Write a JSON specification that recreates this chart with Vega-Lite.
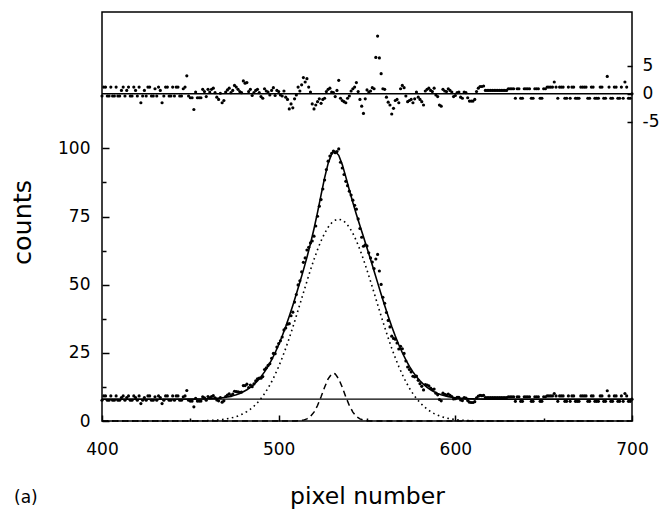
{
  "$schema": "https://vega.github.io/schema/vega-lite/v6.json",
  "width": 530,
  "height": 409,
  "autosize": {"type": "none"},
  "padding": {"left": 102, "top": 12, "right": 31, "bottom": 89},
  "background": "white",
  "config": {
    "view": {"stroke": "black", "strokeWidth": 1.5},
    "font": "DejaVu Sans",
    "axis": {"domain": false, "grid": false, "tickColor": "black", "labelColor": "black", "titleColor": "black", "labelFont": "DejaVu Sans", "titleFont": "DejaVu Sans", "labelFontSize": 17, "titleFontWeight": "normal", "tickWidth": 1.5, "labelFlush": false, "labelOverlap": false}
  },
  "title": {"text": "(a)", "orient": "bottom", "anchor": "start", "frame": "bounds", "offset": -18, "dx": 4, "fontSize": 17, "fontWeight": "normal", "font": "DejaVu Sans", "color": "black"},
  "datasets": {
    "pts": [
      {"x":400,"c":7.6,"r":-0.4},{"x":402,"c":9.2,"r":1.2},{"x":404,"c":7.6,"r":-0.4},{"x":406,"c":7.6,"r":-0.4},{"x":408,"c":9.2,"r":1.2},
      {"x":410,"c":7.6,"r":-0.4},{"x":412,"c":9.2,"r":1.2},{"x":414,"c":8.6,"r":0.6},{"x":416,"c":7.6,"r":-0.4},{"x":418,"c":9.2,"r":1.2},
      {"x":420,"c":7.6,"r":-0.4},{"x":422,"c":6.4,"r":-1.6},{"x":424,"c":8.6,"r":0.6},{"x":426,"c":9.2,"r":1.2},{"x":428,"c":7.6,"r":-0.4},
      {"x":430,"c":8.9,"r":0.9},{"x":432,"c":9.2,"r":1.2},{"x":434,"c":6.4,"r":-1.6},{"x":436,"c":9.2,"r":1.2},{"x":438,"c":7.6,"r":-0.4},
      {"x":440,"c":9.2,"r":1.2},{"x":442,"c":9.2,"r":1.2},{"x":444,"c":7.6,"r":-0.4},{"x":446,"c":8.9,"r":0.9},{"x":448,"c":11.2,"r":3.2},
      {"x":450,"c":7.3,"r":-0.7},{"x":452,"c":5.2,"r":-2.8},{"x":454,"c":7.3,"r":-0.7},{"x":456,"c":7.3,"r":-0.7},{"x":458,"c":8.5,"r":0.4},
      {"x":460,"c":9.0,"r":0.8},{"x":462,"c":9.0,"r":0.8},{"x":464,"c":8.5,"r":0.2},{"x":466,"c":7.4,"r":-1.0},{"x":468,"c":6.9,"r":-1.6},
      {"x":470,"c":9.0,"r":0.3},{"x":472,"c":10.0,"r":1.0},{"x":474,"c":9.9,"r":0.6},{"x":476,"c":10.8,"r":1.2},{"x":478,"c":10.5,"r":0.4},
      {"x":480,"c":13.0,"r":2.3},{"x":482,"c":13.5,"r":2.0},{"x":484,"c":13.2,"r":0.8},{"x":486,"c":13.6,"r":0.2},{"x":488,"c":15.5,"r":0.8},
      {"x":490,"c":15.7,"r":-0.5},{"x":492,"c":18.9,"r":0.9},{"x":494,"c":20.4,"r":0.3},{"x":496,"c":23.0,"r":0.6},{"x":498,"c":24.7,"r":-0.3},
      {"x":500,"c":28.4,"r":0.4},{"x":502,"c":30.8,"r":-0.4},{"x":504,"c":34.1,"r":-0.6},{"x":506,"c":35.7,"r":-2.7},{"x":508,"c":39.9,"r":-2.5},
      {"x":510,"c":46.4,"r":-0.2},{"x":512,"c":51.4,"r":0.5},{"x":514,"c":58.2,"r":2.9},{"x":516,"c":62.7,"r":2.7},{"x":518,"c":65.3,"r":0.3},
      {"x":520,"c":67.8,"r":-2.7},{"x":522,"c":75.1,"r":-1.4},{"x":524,"c":81.2,"r":-1.7},{"x":526,"c":88.4,"r":-0.8},{"x":528,"c":95.3,"r":0.8},
      {"x":530,"c":98.2,"r":0.3},{"x":532,"c":98.4,"r":-0.5},{"x":534,"c":99.8,"r":2.4},{"x":536,"c":92.8,"r":-1.2},{"x":538,"c":87.9,"r":-1.6},
      {"x":540,"c":84.3,"r":-0.4},{"x":542,"c":81.0,"r":0.9},{"x":544,"c":77.7,"r":2.0},{"x":546,"c":70.6,"r":-1.0},{"x":548,"c":64.1,"r":-3.5},
      {"x":550,"c":64.2,"r":0.7},{"x":552,"c":59.8,"r":0.5},{"x":554,"c":55.9,"r":0.9},{"x":555,"c":59.4,"r":6.5},{"x":556,"c":61.1,"r":10.3},
      {"x":557,"c":55.0,"r":6.4},{"x":558,"c":50.1,"r":3.6},{"x":560,"c":43.2,"r":0.8},{"x":562,"c":36.9,"r":-1.5},{"x":564,"c":31.1,"r":-3.6},
      {"x":566,"c":30.0,"r":-1.2},{"x":568,"c":26.4,"r":-1.6},{"x":570,"c":26.5,"r":1.5},{"x":572,"c":22.0,"r":-0.4},{"x":574,"c":18.9,"r":-1.2},
      {"x":576,"c":16.4,"r":-1.6},{"x":578,"c":16.5,"r":0.3},{"x":580,"c":13.7,"r":-1.0},{"x":582,"c":11.4,"r":-2.0},{"x":584,"c":13.2,"r":0.8},
      {"x":586,"c":12.1,"r":0.6},{"x":588,"c":11.7,"r":1.0},{"x":590,"c":9.6,"r":-0.5},{"x":592,"c":7.4,"r":-2.2},{"x":594,"c":9.8,"r":0.5},
      {"x":596,"c":9.9,"r":0.9},{"x":598,"c":9.0,"r":0.3},{"x":600,"c":8.2,"r":-0.3},{"x":602,"c":8.7,"r":0.3},{"x":604,"c":7.5,"r":-0.8},
      {"x":606,"c":8.4,"r":0.2},{"x":608,"c":6.9,"r":-1.3},{"x":610,"c":6.8,"r":-1.3},{"x":612,"c":8.5,"r":0.4},{"x":614,"c":9.4,"r":1.3},
      {"x":616,"c":9.4,"r":1.4},{"x":618,"c":8.6,"r":0.6},{"x":620,"c":8.6,"r":0.6},{"x":622,"c":8.6,"r":0.6},{"x":624,"c":8.6,"r":0.6},
      {"x":626,"c":8.6,"r":0.6},{"x":628,"c":8.6,"r":0.6},{"x":630,"c":8.9,"r":0.9},{"x":632,"c":8.9,"r":0.9},{"x":634,"c":7.2,"r":-0.8},
      {"x":636,"c":8.9,"r":0.9},{"x":638,"c":7.2,"r":-0.8},{"x":640,"c":8.9,"r":0.9},{"x":642,"c":8.9,"r":0.9},{"x":644,"c":7.2,"r":-0.8},
      {"x":646,"c":8.9,"r":0.9},{"x":648,"c":7.2,"r":-0.8},{"x":650,"c":8.9,"r":0.9},{"x":652,"c":9.2,"r":1.2},{"x":654,"c":9.2,"r":1.2},
      {"x":656,"c":10.1,"r":2.1},{"x":658,"c":7.2,"r":-0.8},{"x":660,"c":9.2,"r":1.2},{"x":662,"c":7.2,"r":-0.8},{"x":664,"c":9.2,"r":1.2},
      {"x":666,"c":9.2,"r":1.2},{"x":668,"c":7.2,"r":-0.8},{"x":670,"c":7.2,"r":-0.8},{"x":672,"c":9.2,"r":1.2},{"x":674,"c":9.2,"r":1.2},
      {"x":676,"c":7.2,"r":-0.8},{"x":678,"c":9.2,"r":1.2},{"x":680,"c":7.2,"r":-0.8},{"x":682,"c":9.2,"r":1.2},{"x":684,"c":7.2,"r":-0.8},
      {"x":686,"c":11.1,"r":3.1},{"x":688,"c":7.2,"r":-0.8},{"x":690,"c":9.2,"r":1.2},{"x":692,"c":7.2,"r":-0.8},{"x":694,"c":9.2,"r":1.2},
      {"x":696,"c":10.1,"r":2.1},{"x":698,"c":7.2,"r":-0.8},{"x":700,"c":8.0,"r":0.0},
      {"x":401,"c":9.2,"r":1.2},{"x":403,"c":7.6,"r":-0.4},{"x":405,"c":9.2,"r":1.2},{"x":407,"c":7.6,"r":-0.4},{"x":409,"c":7.6,"r":-0.4},
      {"x":411,"c":8.6,"r":0.6},{"x":413,"c":7.6,"r":-0.4},{"x":415,"c":9.2,"r":1.2},{"x":417,"c":7.6,"r":-0.4},{"x":419,"c":8.6,"r":0.6},
      {"x":421,"c":9.2,"r":1.2},{"x":423,"c":7.6,"r":-0.4},{"x":425,"c":7.6,"r":-0.4},{"x":427,"c":9.2,"r":1.2},{"x":429,"c":7.6,"r":-0.4},
      {"x":431,"c":7.6,"r":-0.4},{"x":433,"c":8.6,"r":0.6},{"x":435,"c":7.6,"r":-0.4},{"x":437,"c":9.2,"r":1.2},{"x":439,"c":7.6,"r":-0.4},
      {"x":441,"c":7.6,"r":-0.4},{"x":443,"c":9.2,"r":1.2},{"x":445,"c":7.6,"r":-0.4},{"x":447,"c":9.2,"r":1.2},{"x":449,"c":7.6,"r":-0.4},
      {"x":451,"c":7.3,"r":-0.7},{"x":453,"c":8.3,"r":0.3},{"x":455,"c":7.3,"r":-0.7},{"x":457,"c":8.9,"r":0.8},{"x":459,"c":7.6,"r":-0.5},
      {"x":461,"c":8.5,"r":0.3},{"x":463,"c":9.3,"r":1.0},{"x":465,"c":7.7,"r":-0.6},{"x":467,"c":8.6,"r":0.1},{"x":469,"c":7.4,"r":-1.2},
      {"x":471,"c":9.5,"r":0.7},{"x":473,"c":9.3,"r":0.2},{"x":475,"c":10.9,"r":1.5},{"x":477,"c":10.7,"r":0.8},{"x":479,"c":10.6,"r":0.2},
      {"x":481,"c":13.0,"r":1.9},{"x":483,"c":12.3,"r":0.4},{"x":485,"c":12.6,"r":-0.3},{"x":487,"c":14.7,"r":0.6},{"x":489,"c":15.7,"r":0.2},
      {"x":491,"c":16.3,"r":-0.8},{"x":493,"c":19.5,"r":0.5},{"x":495,"c":21.0,"r":-0.2},{"x":497,"c":24.8,"r":1.1},{"x":499,"c":27.1,"r":0.6},
      {"x":501,"c":29.4,"r":-0.2},{"x":503,"c":33.4,"r":0.5},{"x":505,"c":35.5,"r":-1.0},{"x":507,"c":38.6,"r":-1.8},{"x":509,"c":43.6,"r":-0.9},
      {"x":511,"c":49.9,"r":1.2},{"x":513,"c":54.7,"r":1.6},{"x":515,"c":59.8,"r":2.1},{"x":517,"c":63.7,"r":1.2},{"x":519,"c":66.0,"r":-1.8},
      {"x":521,"c":71.5,"r":-2.0},{"x":523,"c":78.8,"r":-0.9},{"x":525,"c":85.1,"r":-1.0},{"x":527,"c":92.2,"r":0.4},{"x":529,"c":97.2,"r":1.0},
      {"x":531,"c":99.0,"r":0.2},{"x":533,"c":98.8,"r":0.6},{"x":535,"c":94.9,"r":-0.8},{"x":537,"c":90.4,"r":-1.4},{"x":539,"c":86.3,"r":-0.8},
      {"x":541,"c":82.9,"r":0.5},{"x":543,"c":79.1,"r":1.2},{"x":545,"c":74.1,"r":0.4},{"x":547,"c":67.4,"r":-2.2},{"x":549,"c":64.6,"r":-0.9},
      {"x":551,"c":61.7,"r":0.3},{"x":553,"c":58.3,"r":1.1},{"x":559,"c":45.4,"r":0.9},{"x":561,"c":39.8,"r":-0.6},{"x":563,"c":34.5,"r":-2.0},
      {"x":565,"c":30.3,"r":-2.6},{"x":567,"c":28.6,"r":-1.0},{"x":569,"c":27.4,"r":0.9},{"x":571,"c":24.8,"r":1.1},{"x":573,"c":19.8,"r":-1.4},
      {"x":575,"c":18.0,"r":-1.0},{"x":577,"c":16.2,"r":-0.9},{"x":579,"c":14.9,"r":-0.6},{"x":581,"c":12.7,"r":-1.4},{"x":583,"c":13.4,"r":0.5},
      {"x":585,"c":12.9,"r":1.0},{"x":587,"c":11.5,"r":0.4},{"x":589,"c":10.2,"r":-0.2},{"x":591,"c":7.9,"r":-2.0},{"x":593,"c":10.2,"r":0.8},
      {"x":595,"c":9.5,"r":0.4},{"x":597,"c":9.4,"r":0.6},{"x":599,"c":8.1,"r":-0.5},{"x":601,"c":8.7,"r":0.2},{"x":603,"c":7.7,"r":-0.6},
      {"x":605,"c":8.6,"r":0.3},{"x":607,"c":7.5,"r":-0.7},{"x":609,"c":6.8,"r":-1.3},{"x":611,"c":7.1,"r":-1.0},{"x":613,"c":9.1,"r":1.0},
      {"x":615,"c":9.3,"r":1.3},{"x":617,"c":8.6,"r":0.6},{"x":619,"c":8.6,"r":0.6},{"x":621,"c":8.6,"r":0.6},{"x":623,"c":8.6,"r":0.6},
      {"x":625,"c":8.6,"r":0.6},{"x":627,"c":8.6,"r":0.6},{"x":629,"c":8.6,"r":0.6},{"x":631,"c":8.9,"r":0.9},{"x":633,"c":8.9,"r":0.9},
      {"x":635,"c":8.9,"r":0.9},{"x":637,"c":7.2,"r":-0.8},{"x":639,"c":8.9,"r":0.9},{"x":641,"c":8.9,"r":0.9},{"x":643,"c":7.2,"r":-0.8},
      {"x":645,"c":8.9,"r":0.9},{"x":647,"c":8.9,"r":0.9},{"x":649,"c":7.2,"r":-0.8},{"x":651,"c":8.9,"r":0.9},{"x":653,"c":9.2,"r":1.2},
      {"x":655,"c":9.2,"r":1.2},{"x":657,"c":9.2,"r":1.2},{"x":659,"c":9.2,"r":1.2},{"x":661,"c":9.2,"r":1.2},{"x":663,"c":7.2,"r":-0.8},
      {"x":665,"c":7.2,"r":-0.8},{"x":667,"c":9.2,"r":1.2},{"x":669,"c":7.2,"r":-0.8},{"x":671,"c":9.2,"r":1.2},{"x":673,"c":9.2,"r":1.2},
      {"x":675,"c":7.2,"r":-0.8},{"x":677,"c":9.2,"r":1.2},{"x":679,"c":7.2,"r":-0.8},{"x":681,"c":7.2,"r":-0.8},{"x":683,"c":9.2,"r":1.2},
      {"x":685,"c":7.2,"r":-0.8},{"x":687,"c":9.2,"r":1.2},{"x":689,"c":7.2,"r":-0.8},{"x":691,"c":9.2,"r":1.2},{"x":693,"c":7.2,"r":-0.8},
      {"x":695,"c":7.2,"r":-0.8},{"x":697,"c":9.2,"r":1.2},{"x":699,"c":7.2,"r":-0.8}
    ],
    "curve": [
      {"x":400,"f":8,"g1":0,"g2":0},{"x":420,"f":8,"g1":0,"g2":0},{"x":440,"f":8,"g1":0,"g2":0},{"x":450,"f":8.02,"g1":0.02,"g2":0},
      {"x":452,"f":8.04,"g1":0.04,"g2":0},{"x":454,"f":8.05,"g1":0.05,"g2":0},{"x":456,"f":8.08,"g1":0.08,"g2":0},{"x":458,"f":8.11,"g1":0.11,"g2":0},
      {"x":460,"f":8.15,"g1":0.15,"g2":0},{"x":462,"f":8.21,"g1":0.21,"g2":0},{"x":464,"f":8.29,"g1":0.29,"g2":0},{"x":466,"f":8.39,"g1":0.39,"g2":0},
      {"x":468,"f":8.53,"g1":0.53,"g2":0},{"x":470,"f":8.71,"g1":0.71,"g2":0},{"x":472,"f":8.95,"g1":0.95,"g2":0},{"x":474,"f":9.25,"g1":1.25,"g2":0},
      {"x":476,"f":9.63,"g1":1.63,"g2":0},{"x":478,"f":10.11,"g1":2.11,"g2":0},{"x":480,"f":10.71,"g1":2.71,"g2":0},{"x":482,"f":11.45,"g1":3.45,"g2":0},
      {"x":484,"f":12.35,"g1":4.35,"g2":0},{"x":486,"f":13.43,"g1":5.43,"g2":0},{"x":488,"f":14.72,"g1":6.72,"g2":0},{"x":490,"f":16.24,"g1":8.24,"g2":0},
      {"x":492,"f":18.01,"g1":10.01,"g2":0},{"x":494,"f":20.06,"g1":12.06,"g2":0},{"x":496,"f":22.39,"g1":14.39,"g2":0},{"x":498,"f":25.03,"g1":17.03,"g2":0},
      {"x":500,"f":27.95,"g1":19.95,"g2":0},{"x":502,"f":31.18,"g1":23.18,"g2":0},{"x":504,"f":34.67,"g1":26.67,"g2":0},{"x":506,"f":38.42,"g1":30.42,"g2":0},
      {"x":508,"f":42.39,"g1":34.39,"g2":0},{"x":510,"f":46.55,"g1":38.51,"g2":0.04},{"x":512,"f":50.87,"g1":42.75,"g2":0.12},{"x":514,"f":55.34,"g1":47.02,"g2":0.32},
      {"x":516,"f":60.02,"g1":51.25,"g2":0.77},{"x":518,"f":65.03,"g1":55.36,"g2":1.67},{"x":520,"f":70.51,"g1":59.25,"g2":3.26},{"x":522,"f":76.54,"g1":62.86,"g2":5.68},
      {"x":524,"f":82.93,"g1":66.07,"g2":8.86},{"x":526,"f":89.19,"g1":68.82,"g2":12.37},{"x":528,"f":94.48,"g1":71.04,"g2":15.44},{"x":530,"f":97.93,"g1":72.67,"g2":17.26},
      {"x":531,"f":98.75,"g1":73.25,"g2":17.5},{"x":532,"f":98.92,"g1":73.66,"g2":17.26},{"x":534,"f":97.44,"g1":74,"g2":15.44},{"x":536,"f":94.03,"g1":73.66,"g2":12.37},
      {"x":538,"f":89.53,"g1":72.67,"g2":8.86},{"x":540,"f":84.72,"g1":71.04,"g2":5.68},{"x":542,"f":80.08,"g1":68.82,"g2":3.26},{"x":544,"f":75.74,"g1":66.07,"g2":1.67},
      {"x":546,"f":71.63,"g1":62.86,"g2":0.77},{"x":548,"f":67.57,"g1":59.25,"g2":0.32},{"x":550,"f":63.48,"g1":55.36,"g2":0.12},{"x":552,"f":59.29,"g1":51.25,"g2":0.04},
      {"x":554,"f":55.02,"g1":47.02,"g2":0},{"x":556,"f":50.75,"g1":42.75,"g2":0},{"x":558,"f":46.51,"g1":38.51,"g2":0},{"x":560,"f":42.39,"g1":34.39,"g2":0},
      {"x":562,"f":38.42,"g1":30.42,"g2":0},{"x":564,"f":34.67,"g1":26.67,"g2":0},{"x":566,"f":31.18,"g1":23.18,"g2":0},{"x":568,"f":27.95,"g1":19.95,"g2":0},
      {"x":570,"f":25.03,"g1":17.03,"g2":0},{"x":572,"f":22.39,"g1":14.39,"g2":0},{"x":574,"f":20.06,"g1":12.06,"g2":0},{"x":576,"f":18.01,"g1":10.01,"g2":0},
      {"x":578,"f":16.24,"g1":8.24,"g2":0},{"x":580,"f":14.72,"g1":6.72,"g2":0},{"x":582,"f":13.43,"g1":5.43,"g2":0},{"x":584,"f":12.35,"g1":4.35,"g2":0},
      {"x":586,"f":11.45,"g1":3.45,"g2":0},{"x":588,"f":10.71,"g1":2.71,"g2":0},{"x":590,"f":10.11,"g1":2.11,"g2":0},{"x":592,"f":9.63,"g1":1.63,"g2":0},
      {"x":594,"f":9.25,"g1":1.25,"g2":0},{"x":596,"f":8.95,"g1":0.95,"g2":0},{"x":598,"f":8.71,"g1":0.71,"g2":0},{"x":600,"f":8.53,"g1":0.53,"g2":0},
      {"x":602,"f":8.39,"g1":0.39,"g2":0},{"x":604,"f":8.29,"g1":0.29,"g2":0},{"x":606,"f":8.21,"g1":0.21,"g2":0},{"x":608,"f":8.15,"g1":0.15,"g2":0},
      {"x":610,"f":8.11,"g1":0.11,"g2":0},{"x":612,"f":8.08,"g1":0.08,"g2":0},{"x":614,"f":8.05,"g1":0.05,"g2":0},{"x":616,"f":8.04,"g1":0.04,"g2":0},
      {"x":618,"f":8.02,"g1":0.02,"g2":0},{"x":630,"f":8,"g1":0,"g2":0},{"x":660,"f":8,"g1":0,"g2":0},{"x":700,"f":8,"g1":0,"g2":0}
    ]
  },
  "layer": [
    {
      "layer": [
        {
          "data": {"name": "pts"},
          "mark": {"type": "circle", "color": "black", "size": 10, "opacity": 1},
          "encoding": {
            "x": {
              "field": "x", "type": "quantitative",
              "scale": {"domain": [400, 700], "nice": false, "zero": false},
              "axis": {
                "values": [400, 450, 500, 550, 600, 650, 700],
                "labelExpr": "datum.value % 100 === 0 ? datum.label : ''",
                "tickSize": {"condition": {"test": "datum.value % 100 === 0", "value": -6}, "value": -3},
                "labelPadding": 26,
                "title": "pixel number",
                "titleFontSize": 23.5,
                "titleY": 82,
                "titleBaseline": "alphabetic"
              }
            },
            "y": {
              "field": "c", "type": "quantitative",
              "scale": {"domain": [0, 150], "nice": false, "zero": false},
              "axis": {
                "values": [0, 12.5, 25, 37.5, 50, 62.5, 75, 87.5, 100],
                "labelExpr": "datum.value % 25 === 0 ? datum.label : ''",
                "tickSize": {"condition": {"test": "datum.value % 25 === 0", "value": -7}, "value": -4},
                "labelPadding": 19,
                "title": "counts",
                "titleFontSize": 25.5,
                "titleAngle": -90,
                "titleX": -80,
                "titleY": 210,
                "titleBaseline": "middle",
                "titleAlign": "center"
              }
            }
          }
        },
        {
          "data": {"name": "curve"},
          "mark": {"type": "line", "color": "black", "strokeWidth": 1.6, "strokeDash": [1.6, 3.4]},
          "encoding": {
            "x": {"field": "x", "type": "quantitative"},
            "y": {"field": "g1", "type": "quantitative"}
          }
        },
        {
          "data": {"name": "curve"},
          "mark": {"type": "line", "color": "black", "strokeWidth": 1.5, "strokeDash": [6, 4]},
          "encoding": {
            "x": {"field": "x", "type": "quantitative"},
            "y": {"field": "g2", "type": "quantitative"}
          }
        },
        {
          "data": {"values": [{"baseline": 8}]},
          "mark": {"type": "rule", "color": "black", "strokeWidth": 1.2},
          "encoding": {
            "y": {"field": "baseline", "type": "quantitative"}
          }
        },
        {
          "data": {"name": "curve"},
          "mark": {"type": "line", "color": "black", "strokeWidth": 1.6},
          "encoding": {
            "x": {"field": "x", "type": "quantitative"},
            "y": {"field": "f", "type": "quantitative"}
          }
        }
      ]
    },
    {
      "layer": [
        {
          "data": {"name": "pts"},
          "mark": {"type": "circle", "color": "black", "size": 10, "opacity": 1},
          "encoding": {
            "x": {"field": "x", "type": "quantitative"},
            "y": {
              "field": "r", "type": "quantitative",
              "scale": {"domain": [-58.4, 14.6], "nice": false, "zero": false},
              "axis": {
                "orient": "right",
                "values": [-5, 0, 5],
                "labelExpr": "datum.value < 0 ? '-' + abs(datum.value) : '' + datum.value",
                "tickSize": -5,
                "labelPadding": 15,
                "title": null
              }
            }
          }
        },
        {
          "data": {"values": [{"zero": 0}]},
          "mark": {"type": "rule", "color": "black", "strokeWidth": 1.6},
          "encoding": {
            "y": {"field": "zero", "type": "quantitative"}
          }
        }
      ]
    }
  ],
  "resolve": {"scale": {"y": "independent"}}
}
